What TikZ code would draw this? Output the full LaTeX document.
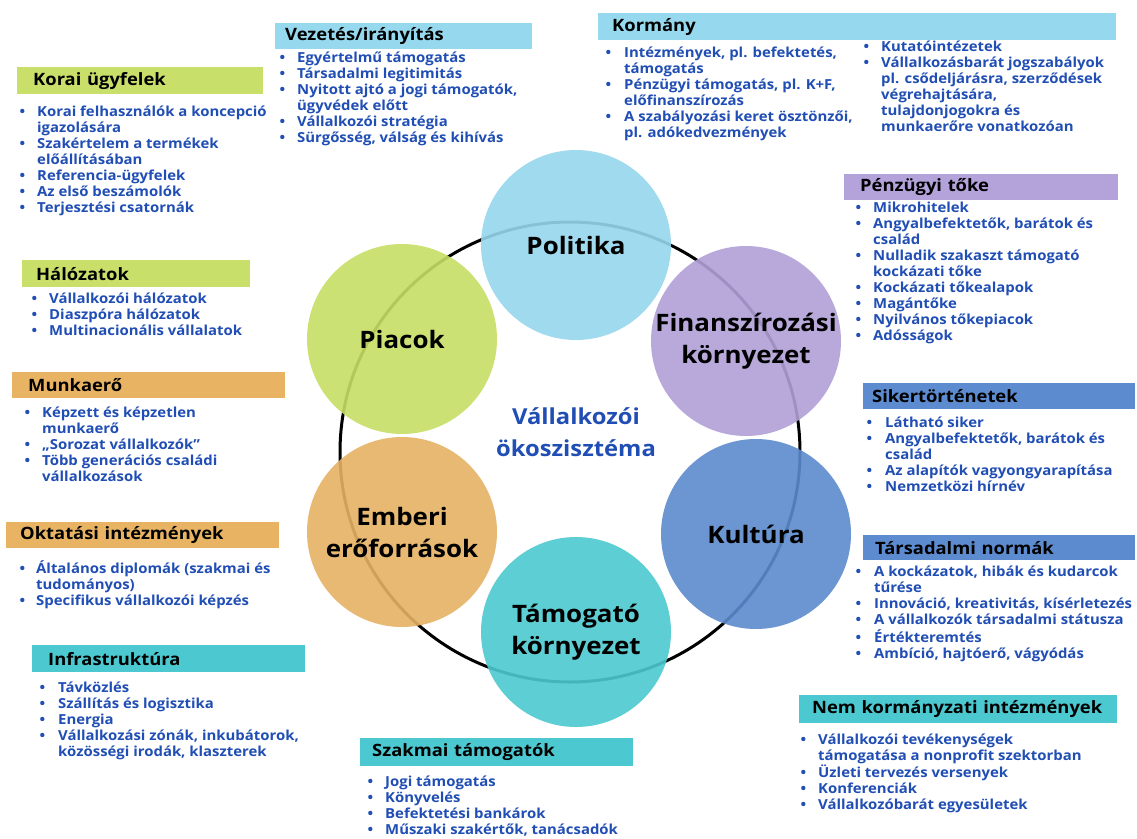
\documentclass[tikz,border=0pt]{standalone}
\usepackage{fontspec}
\setmainfont{Open Sans}[FakeStretch=1.08]
\usepackage{array}
\definecolor{listblue}{RGB}{32,78,180}
\definecolor{cLime}{RGB}{198,222,100}
\definecolor{cOrange}{RGB}{230,178,100}
\definecolor{cTeal}{RGB}{76,201,208}
\definecolor{cSky}{RGB}{150,215,237}
\definecolor{cLav}{RGB}{178,160,216}
\definecolor{cBlue}{RGB}{92,139,206}
\definecolor{hLime}{RGB}{200,224,105}
\definecolor{hOrange}{RGB}{232,180,100}
\definecolor{hTeal}{RGB}{76,201,208}
\definecolor{hSky}{RGB}{150,216,238}
\definecolor{hLav}{RGB}{180,162,218}
\definecolor{hBlue}{RGB}{92,139,208}
\tikzset{
  x=1pt,y=-1pt,
  hdrbox/.style={anchor=north west,inner xsep=0pt,inner ysep=0pt,align=left,
    font=\fontsize{17}{19}\selectfont\bfseries,text=black},
  lstbox/.style={anchor=north west,inner sep=0pt,
    font=\fontsize{13.8}{16}\selectfont\bfseries,text=listblue},
  circ/.style={circle,minimum size=190pt,inner sep=0pt,fill opacity=0.9,text opacity=1,
    font=\fontsize{24}{32}\selectfont\bfseries,text=black,align=center},
}
\newcommand\hdr[8]{\node[hdrbox,fill=#7,text width=#4pt,minimum height=#5pt] (#1) at (#2,#3) {\hspace*{#6pt}#8};}
\newcommand\lst[5]{\node[lstbox] (#1) at (#2,#3) {\begin{tabular}{@{}p{#4pt}@{}l@{}}#5\end{tabular}};}
\newcommand\bu{\textbullet&}
\newcommand\cn{&}
\begin{document}
\begin{tikzpicture}
\useasboundingbox[fill=white] (0,0) rectangle (1137,838);
% ring and circles
\node[draw,circle,minimum size=460pt,line width=3pt,inner sep=0pt] (ring) at (570,452) {};
\node[circ,fill=cSky] (pol) at (576,245) {Politika};
\node[circ,fill=cLav] (fin) at (746,341) {Finanszírozási\\környezet};
\node[circ,fill=cBlue] (kul) at (756,534) {Kultúra};
\node[circ,fill=cTeal] (tam) at (576,632) {Támogató\\környezet};
\node[circ,fill=cOrange] (emb) at (402,532) {Emberi\\erőforrások};
\node[circ,fill=cLime] (pia) at (402,339) {Piacok};
\node[font=\fontsize{22}{32}\selectfont\bfseries,text=listblue,align=center] (eco) at (576,432) {Vállalkozói\\ökoszisztéma};
% left column
\hdr{hKorai}{17}{67}{246}{27}{16}{hLime}{Korai ügyfelek}
\lst{lKorai}{19.5}{105}{17.5}{\bu Korai felhasználók a koncepció\\ \cn igazolására\\ \bu Szakértelem a termékek\\ \cn előállításában\\ \bu Referencia-ügyfelek\\ \bu Az első beszámolók\\ \bu Terjesztési csatornák}
\hdr{hHal}{22}{260}{228}{27}{14}{hLime}{Hálózatok}
\lst{lHal}{31.5}{292}{17.5}{\bu Vállalkozói hálózatok\\ \bu Diaszpóra hálózatok\\ \bu Multinacionális vállalatok}
\hdr{hMunka}{12}{372}{273}{26}{16}{hOrange}{Munkaerő}
\lst{lMunka}{24.5}{406}{17.5}{\bu Képzett és képzetlen\\ \cn munkaerő\\ \bu „Sorozat vállalkozók”\\ \bu Több generációs családi\\ \cn vállalkozások}
\hdr{hOkt}{6}{522}{273}{26}{14}{hOrange}{Oktatási intézmények}
\lst{lOkt}{19.5}{560}{16.5}{\bu Általános diplomák (szakmai és\\ \cn tudományos)\\ \bu Specifikus vállalkozói képzés}
\hdr{hInfra}{32}{645}{273}{27}{16}{hTeal}{Infrastruktúra}
\lst{lInfra}{39.5}{681}{18.5}{\bu Távközlés\\ \bu Szállítás és logisztika\\ \bu Energia\\ \bu Vállalkozási zónák, inkubátorok,\\ \cn közösségi irodák, klaszterek}
% top
\hdr{hVez}{275}{23}{257}{26}{10}{hSky}{Vezetés/irányítás}
\lst{lVez}{279.5}{51}{17.5}{\bu Egyértelmű támogatás\\ \bu Társadalmi legitimitás\\ \bu Nyitott ajtó a jogi támogatók,\\ \cn ügyvédek előtt\\ \bu Vállalkozói stratégia\\ \bu Sürgősség, válság és kihívás}
\hdr{hKorm}{598}{13}{518}{27}{14}{hSky}{Kormány}
\lst{lKormA}{605.5}{46}{18.5}{\bu Intézmények, pl. befektetés,\\ \cn támogatás\\ \bu Pénzügyi támogatás, pl. K+F,\\ \cn előfinanszírozás\\ \bu A szabályozási keret ösztönzői,\\ \cn pl. adókedvezmények}
\lst{lKormB}{863.5}{40}{17.5}{\bu Kutatóintézetek\\ \bu Vállalkozásbarát jogszabályok\\ \cn pl. csődeljárásra, szerződések\\ \cn végrehajtására,\\ \cn tulajdonjogokra és\\ \cn munkaerőre vonatkozóan}
% right column
\hdr{hPenz}{844}{174}{274}{26}{16}{hLav}{Pénzügyi tőke}
\lst{lPenz}{855.5}{201}{17.5}{\bu Mikrohitelek\\ \bu Angyalbefektetők, barátok és\\ \cn család\\ \bu Nulladik szakaszt támogató\\ \cn kockázati tőke\\ \bu Kockázati tőkealapok\\ \bu Magántőke\\ \bu Nyilvános tőkepiacok\\ \bu Adósságok}
\hdr{hSiker}{863}{383}{272}{26}{9}{hBlue}{Sikertörténetek}
\lst{lSiker}{866.5}{416}{18.5}{\bu Látható siker\\ \bu Angyalbefektetők, barátok és\\ \cn család\\ \bu Az alapítók vagyongyarapítása\\ \bu Nemzetközi hírnév}
\hdr{hTars}{863}{535}{272}{25}{12}{hBlue}{Társadalmi normák}
\lst{lTars}{855.5}{565}{18.5}{\bu A kockázatok, hibák és kudarcok\\ \cn tűrése\\ \bu Innováció, kreativitás, kísérletezés\\ \bu A vállalkozók társadalmi státusza\\ \bu Értékteremtés\\ \bu Ambíció, hajtóerő, vágyódás}
\hdr{hNem}{799}{695}{318}{28}{13}{hTeal}{Nem kormányzati intézmények}
\lst{lNem}{800.5}{733}{17.5}{\bu Vállalkozói tevékenységek\\ \cn támogatása a nonprofit szektorban\\ \bu Üzleti tervezés versenyek\\ \bu Konferenciák\\ \bu Vállalkozóbarát egyesületek}
% bottom
\hdr{hSzak}{360}{738}{273}{28}{12}{hTeal}{Szakmai támogatók}
\lst{lSzak}{367.5}{775}{17.5}{\bu Jogi támogatás\\ \bu Könyvelés\\ \bu Befektetési bankárok\\ \bu Műszaki szakértők, tanácsadók}
\end{tikzpicture}
\end{document}
